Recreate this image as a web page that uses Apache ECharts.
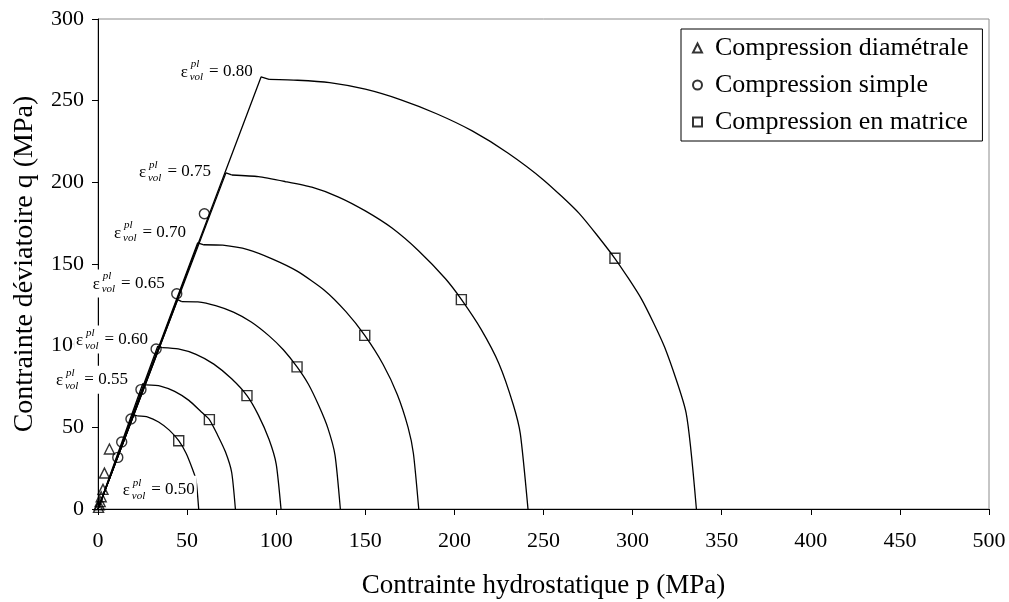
<!DOCTYPE html>
<html>
<head>
<meta charset="utf-8">
<script src="https://cdn.jsdelivr.net/npm/echarts@6/dist/echarts.min.js"></script>
<style>
html,body{margin:0;padding:0;background:#fff;}
#c{width:1009px;height:602px;}
</style>
</head>
<body>
<div id="c"></div>
<script>
// ---- data (p in MPa, q in MPa) ----
const curveLabels = ['0.50', '0.55', '0.60', '0.65', '0.70', '0.75', '0.80'];
// each curve: origin, peak, start of cap, then points along the cap down to q = 0
const curve050 = [[0,0],[20,57.7],[22,57],[28,56.3],[34,53.3],[40,48.3],[45.3,41.8],[49.5,34],[53,24.5],[55,18],[56.5,0]];
const curve055 = [[0,0],[25.1,76.7],[27,76],[35,75.3],[43,72],[51,66.5],[58,59.4],[62.5,54.7],[67,45.5],[71.5,35],[75,22.5],[77.1,0]];
const curve060 = [[0,0],[33.5,99.6],[36,98.8],[45,98],[55,94.7],[65,88.7],[75,79.7],[83.6,69.4],[90,57.5],[96,42.5],[100,27.5],[102.7,0]];
const curve065 = [[0,0],[44.7,128.2],[47,127],[56,126.8],[66,124.5],[76,120.5],[86,114.5],[96,106],[104,97.5],[111.7,87],[118,76.5],[124,63],[129,49.5],[133,33],[136,0]];
const curve070 = [[0,0],[55.9,162.9],[59,161.8],[70,161.5],[84,158.8],[98,153],[112,145.5],[127,134],[139,121],[149.7,106.3],[160,88.5],[168,70],[174,50],[177,34],[180,0]];
const curve075 = [[0,0],[71.8,205.8],[75,204.5],[90,203.5],[105,200.5],[120,197],[135,191],[150,182.5],[165,172],[180,158],[195,141],[204,128.2],[215,110],[225,89],[233,64],[237,46],[241.3,0]];
const curve080 = [[0,0],[91.5,264.5],[96,263],[112,262.5],[130,261],[150,257],[170,250.5],[190,242],[210,231.5],[230,218],[250,201.5],[270,181],[290,153.5],[305,128.5],[318,99],[330,59],[335.8,0]];
const curves = [curve050, curve055, curve060, curve065, curve070, curve075, curve080];

const diametrale = [[0.3,1],[0.7,2.5],[1.2,4.5],[1.8,7.5],[2.8,12],[3.6,22],[6.4,36.7]];
const simple = [[11.1,31.6],[13.3,41],[18.5,55.1],[24.1,73.1],[32.6,98],[44.2,131.8],[59.7,180.8]];
const matrice = [[45.3,41.8],[62.5,54.7],[83.6,69.4],[111.7,87],[149.7,106.3],[203.9,128.2],[290.1,153.5]];

// right-end anchor of each "ε = 0.xx" label, in data units
const labelAnchors = [[54.3,11.8],[16.8,79.2],[28.1,103.7],[37.4,138],[49.4,169.5],[63.4,206.5],[86.8,267.8]];

const seriesNames = ['Compression diamétrale', 'Compression simple', 'Compression en matrice'];
const xRange = [0, 500, 50];
const yRange = [0, 300, 50];

const FONT = '"Liberation Serif", "Times New Roman", serif';

const chart = echarts.init(document.getElementById('c'), null, {renderer: 'canvas'});

const series = [];
curves.forEach((c, i) => {
  // straight part: origin -> peak -> start of cap
  series.push({
    type: 'line', name: 'line ' + curveLabels[i], data: c.slice(0, 3),
    showSymbol: false, symbol: 'none', smooth: false, silent: true,
    lineStyle: {color: '#000', width: 1.3}, z: 2
  });
  // cap
  series.push({
    type: 'line', name: 'cap ' + curveLabels[i], data: c.slice(2),
    showSymbol: false, symbol: 'none', smooth: 0.2, silent: true,
    lineStyle: {color: '#000', width: 1.3}, z: 2
  });
});

const markerStyle = {color: 'rgba(0,0,0,0)', borderColor: '#000', borderWidth: 1.4};
series.push({type: 'scatter', name: seriesNames[0], data: diametrale, symbol: 'triangle', symbolSize: 10, itemStyle: markerStyle, z: 4});
series.push({type: 'scatter', name: seriesNames[1], data: simple, symbol: 'circle', symbolSize: 10, itemStyle: markerStyle, z: 4});
series.push({type: 'scatter', name: seriesNames[2], data: matrice, symbol: 'rect', symbolSize: 10, itemStyle: markerStyle, z: 4});

series.push({
  type: 'custom',
  name: 'labels',
  clip: false,
  silent: true,
  z: 10,
  data: labelAnchors,
  renderItem: function (params, api) {
    const pt = api.coord([api.value(0), api.value(1)]);
    const x = pt[0], y = pt[1];
    const t = curveLabels[params.dataIndex];
    return {
      type: 'group',
      children: [
        {type: 'rect', shape: {x: x - 74, y: y - 14, width: 76, height: 28}, style: {fill: '#fff'}},
        {type: 'text', x: x, y: y, style: {text: '= ' + t, font: '17px ' + FONT, align: 'right', verticalAlign: 'middle', fill: '#000'}},
        {type: 'text', x: x - 72, y: y + 1, style: {text: 'ε', font: '17px ' + FONT, align: 'left', verticalAlign: 'middle', fill: '#000'}},
        {type: 'text', x: x - 62, y: y - 7, style: {text: 'pl', font: 'italic 11px ' + FONT, align: 'left', verticalAlign: 'middle', fill: '#000'}},
        {type: 'text', x: x - 63, y: y + 6, style: {text: 'vol', font: 'italic 11px ' + FONT, align: 'left', verticalAlign: 'middle', fill: '#000'}}
      ]
    };
  }
});

const option = {
  backgroundColor: '#fff',
  animation: false,
  grid: {
    left: 98, right: 20, top: 19, bottom: 93,
    show: true, borderColor: '#8c8c8c', borderWidth: 1,
    containLabel: false, outerBoundsMode: 'none'
  },
  legend: {
    data: seriesNames,
    orient: 'vertical',
    left: 681, top: 29,
    backgroundColor: '#fff',
    borderColor: '#000', borderWidth: 1,
    padding: [6, 14, 6, 11],
    itemWidth: 9, itemHeight: 9, itemGap: 11,
    selectedMode: false,
    textStyle: {fontFamily: FONT, fontSize: 26, color: '#000', padding: [0, 0, 0, 8]}
  },
  xAxis: {
    type: 'value', min: xRange[0], max: xRange[1], interval: xRange[2],
    name: 'Contrainte hydrostatique p (MPa)',
    nameLocation: 'middle', nameGap: 63,
    nameTextStyle: {fontFamily: FONT, fontSize: 27, color: '#000'},
    axisLine: {show: true, onZero: false, lineStyle: {color: '#000', width: 1}},
    axisTick: {show: true, length: 6, inside: false, lineStyle: {color: '#000', width: 1}},
    axisLabel: {fontFamily: FONT, fontSize: 22, color: '#000', margin: 21},
    splitLine: {show: false}
  },
  yAxis: {
    type: 'value', min: yRange[0], max: yRange[1], interval: yRange[2],
    name: 'Contrainte déviatoire q (MPa)',
    nameLocation: 'middle', nameGap: 59, nameRotate: 90,
    nameTextStyle: {fontFamily: FONT, fontSize: 28, color: '#000'},
    axisLine: {show: true, onZero: false, lineStyle: {color: '#000', width: 1}},
    axisTick: {show: true, length: 6, inside: false, lineStyle: {color: '#000', width: 1}},
    axisLabel: {fontFamily: FONT, fontSize: 22, color: '#000', margin: 14},
    splitLine: {show: false}
  },
  series: series
};
chart.setOption(option);
</script>
</body>
</html>
